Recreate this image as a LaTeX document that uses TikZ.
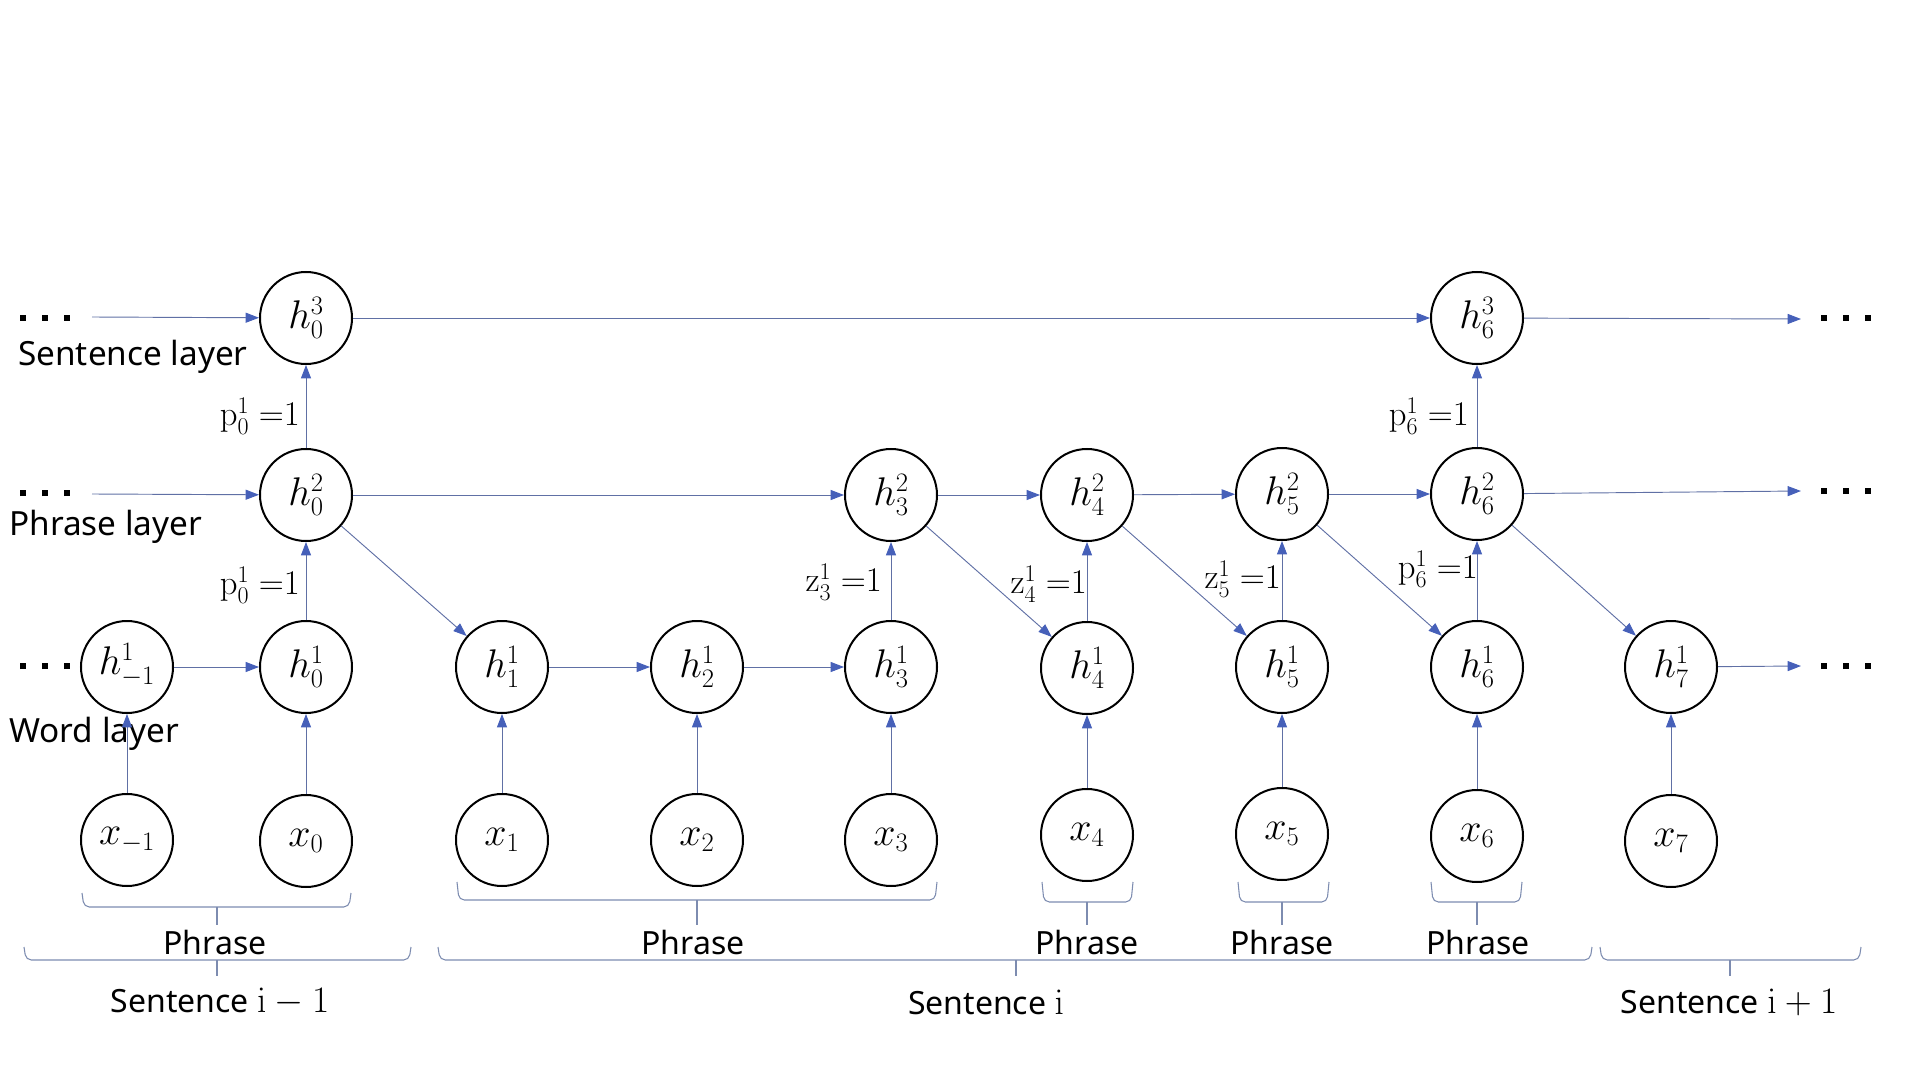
\RequirePackage{fix-cm}
\documentclass[tikz,border=0pt]{standalone}
\usepackage[no-math]{fontspec}
\setmainfont{Noto Sans}
\usetikzlibrary{arrows.meta}
\DeclareMathSizes{30}{30}{20}{15}
\DeclareMathSizes{26}{26}{18}{13}
\DeclareMathSizes{28}{28}{19}{14}
\definecolor{edgeblue}{RGB}{96,112,165}
\definecolor{tipblue}{RGB}{70,96,185}
\definecolor{brkcol}{RGB}{125,140,176}
\newcommand{\sqdots}{\rule{4.5pt}{4.5pt}\hspace{12pt}\rule{4.5pt}{4.5pt}\hspace{12pt}\rule{4.5pt}{4.5pt}}
\newcommand{\mathsz}{\fontsize{28}{34}\selectfont}
% #1 left x, #2 right x, #3 centre x, #4 top y, #5 line y, #6 tip y
\newcommand{\mybracket}[6]{%
  \draw[brk,rounded corners=4pt] (#1,#4) -- (#1+2,#5) -- (#2-2,#5) -- (#2,#4);
  \draw[brk] (#3,#5) -- (#3,#6);}
\begin{document}
\begin{tikzpicture}[x=0.75pt,y=-0.75pt,
  font=\fontsize{24}{29}\selectfont,
  hnode/.style={circle,draw=black,line width=1.5pt,minimum size=69pt,inner sep=0pt,fill=white,font=\fontsize{30}{36}\selectfont},
  conn/.style={draw=edgeblue,line width=0.7pt,-{Triangle[length=10pt,width=7.5pt,color=tipblue]}},
  lbl/.style={anchor=east,inner sep=0pt,font=\fontsize{26}{30}\selectfont},
  txt/.style={inner sep=0pt},
  laytxt/.style={inner sep=0pt,anchor=west,text height=18pt,text depth=5pt,font=\fontsize{25}{30}\selectfont},
  dotsnode/.style={inner sep=0pt},
  brk/.style={draw=brkcol,line width=0.8pt}]
\useasboundingbox (0,0) rectangle (1920,1080);

% sentence layer
\node[hnode] (s0) at (306,318) {$h_0^3$};
\node[hnode] (s6) at (1477,318) {$h_6^3$};
% phrase layer
\node[hnode] (p0) at (306,495) {$h_0^2$};
\node[hnode] (p3) at (891,495) {$h_3^2$};
\node[hnode] (p4) at (1087,495) {$h_4^2$};
\node[hnode] (p5) at (1282,494) {$h_5^2$};
\node[hnode] (p6) at (1477,494) {$h_6^2$};
% word layer
\node[hnode] (wm1) at (127,667) {$h_{\vphantom{(}-1}^1$};
\node[hnode] (w0) at (306,667) {$h_0^1$};
\node[hnode] (w1) at (502,667) {$h_1^1$};
\node[hnode] (w2) at (697,667) {$h_2^1$};
\node[hnode] (w3) at (891,667) {$h_3^1$};
\node[hnode] (w4) at (1087,668) {$h_4^1$};
\node[hnode] (w5) at (1282,667) {$h_5^1$};
\node[hnode] (w6) at (1477,667) {$h_6^1$};
\node[hnode] (w7) at (1671,667) {$h_7^1$};
% inputs
\node[hnode] (xm1) at (127,840) {$x_{-1}$};
\node[hnode] (x0) at (306,841) {$x_0$};
\node[hnode] (x1) at (502,840) {$x_1$};
\node[hnode] (x2) at (697,840) {$x_2$};
\node[hnode] (x3) at (891,840) {$x_3$};
\node[hnode] (x4) at (1087,835) {$x_4$};
\node[hnode] (x5) at (1282,834) {$x_5$};
\node[hnode] (x6) at (1477,836) {$x_6$};
\node[hnode] (x7) at (1671,841) {$x_7$};

% dots
\node[dotsnode] (ldS) at (45,318) {\sqdots};
\node[dotsnode] (ldP) at (45,493) {\sqdots};
\node[dotsnode] (ldW) at (45,666) {\sqdots};
\node[dotsnode] (rdS) at (1846,318) {\sqdots};
\node[dotsnode] (rdP) at (1846,491) {\sqdots};
\node[dotsnode] (rdW) at (1846,666) {\sqdots};
\coordinate (inS) at (92,317);
\coordinate (inP) at (92,494);
\coordinate (outS) at (1801,319);
\coordinate (outP) at (1801,491);
\coordinate (outW) at (1801,666);

% layer labels
\node[laytxt] (tS) at (18,357) {Sentence layer};
\node[laytxt] (tP) at (9,527) {Phrase layer};
\node[laytxt] (tW) at (9,734) {Word layer};

% input arrows
\foreach \a/\b in {xm1/wm1,x0/w0,x1/w1,x2/w2,x3/w3,x4/w4,x5/w5,x6/w6,x7/w7}
  \draw[conn] (\a) -- (\b);
% horizontal arrows
\draw[conn] (inS) -- (s0);
\draw[conn] (s0) -- (s6);
\draw[conn] (s6) -- (outS);
\draw[conn] (inP) -- (p0);
\draw[conn] (p0) -- (p3);
\draw[conn] (p3) -- (p4);
\draw[conn] (p4) -- (p5);
\draw[conn] (p5) -- (p6);
\draw[conn] (p6) -- (outP);
\draw[conn] (wm1) -- (w0);
\draw[conn] (w1) -- (w2);
\draw[conn] (w2) -- (w3);
\draw[conn] (w7) -- (outW);
% vertical arrows
\draw[conn] (w0) -- (p0);
\draw[conn] (p0) -- (s0);
\draw[conn] (w3) -- (p3);
\draw[conn] (w4) -- (p4);
\draw[conn] (w5) -- (p5);
\draw[conn] (w6) -- (p6);
\draw[conn] (p6) -- (s6);
% diagonal arrows
\draw[conn] (p0) -- (w1);
\draw[conn] (p3) -- (w4);
\draw[conn] (p4) -- (w5);
\draw[conn] (p5) -- (w6);
\draw[conn] (p6) -- (w7);

% edge labels
\node[lbl] (l1) at (300,416) {$\mathrm{p}_0^1\;{=}1$};
\node[lbl] (l2) at (300,585) {$\mathrm{p}_0^1\;{=}1$};
\node[lbl] (l3) at (882,582) {$\mathrm{z}_3^1\;{=}1$};
\node[lbl] (l4) at (1087,584) {$\mathrm{z}_4^1\;{=}1$};
\node[lbl] (l5) at (1281,579) {$\mathrm{z}_5^1\;{=}1$};
\node[lbl] (l6) at (1469,416) {$\mathrm{p}_6^1\;{=}1$};
\node[lbl] (l7) at (1478,569) {$\mathrm{p}_6^1\;{=}1$};

% phrase brackets
\mybracket{82}{351}{217}{893}{907}{925}
\mybracket{457}{937}{697}{882}{900}{925}
\mybracket{1042}{1133}{1087}{882}{902}{925}
\mybracket{1238}{1329}{1282}{882}{902}{925}
\mybracket{1431}{1522}{1477}{882}{902}{925}
% sentence brackets
\mybracket{24}{411}{217}{947}{960}{976}
\mybracket{438}{1592}{1016}{947}{960}{976}
\mybracket{1600}{1861}{1730}{947}{960}{976}

% bracket labels
\node[txt] (ph1) at (215,942) {Phrase};
\node[txt] (ph2) at (693,942) {Phrase};
\node[txt] (ph3) at (1087,942) {Phrase};
\node[txt] (ph4) at (1282,942) {Phrase};
\node[txt] (ph5) at (1478,942) {Phrase};
\node[txt] (se1) at (220,1002) {Sentence {\mathsz$\mathrm{i}-1$}};
\node[txt] (se2) at (986,1002) {Sentence {\mathsz$\mathrm{i}$}};
\node[txt] (se3) at (1729,1002) {Sentence {\mathsz$\mathrm{i}+1$}};
\end{tikzpicture}
\end{document}
